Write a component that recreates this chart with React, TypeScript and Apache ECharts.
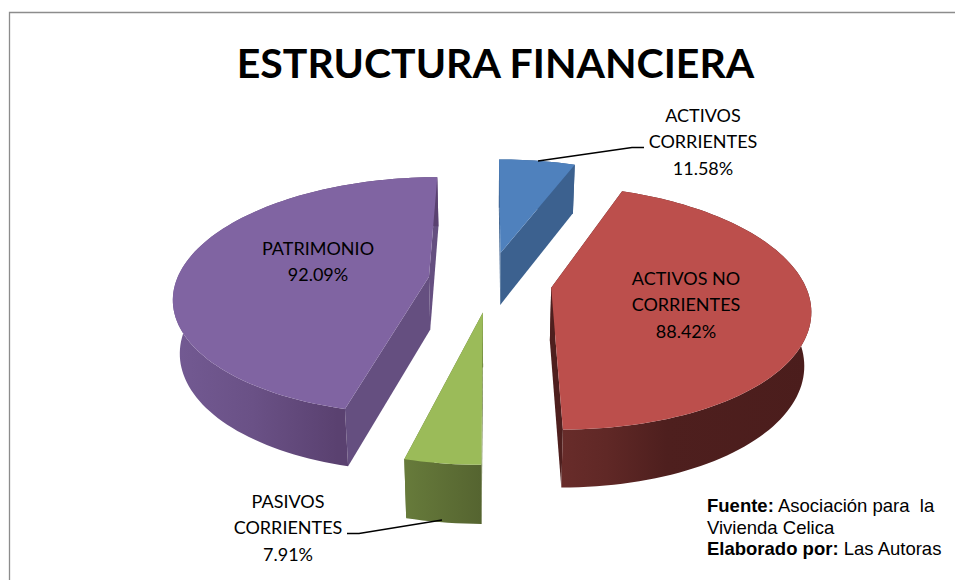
import React, { useEffect, useRef } from "react";
import * as echarts from "echarts";

const TITLE = "ESTRUCTURA FINANCIERA";
const categories = ["ACTIVOS\nCORRIENTES", "ACTIVOS NO\nCORRIENTES", "PASIVOS\nCORRIENTES", "PATRIMONIO"];
const values = [11.58, 88.42, 7.91, 92.09];

const topColors = ["#4F81BD", "#BC4F4C", "#9BBB59", "#8064A2"];
const wallColors = ["#3C618F", "#4E1F1E", "#5D7032", "#654F80"];
const rimStops: [number, string][][] = [
  [[0, "#3C618F"], [1, "#3C618F"]],
  [[0, "#682C2A"], [0.18, "#602826"], [0.42, "#4E1F1E"], [1, "#4B1D1C"]],
  [[0, "#677B3B"], [1, "#556430"]],
  [[0, "#735A93"], [0.3, "#6A5186"], [0.62, "#5A4170"], [1, "#5A4170"]],
];
// explode offset of each slice, in radii of the disc (sideways, towards the viewer)
const explodeU = [0.043, 0.24, -0.027, -0.243];
const explodeV = [-0.283, 0.024, 0.225, -0.07];
// label centres, [x, y] of the block of text
const labelPos = [[703, 141], [686, 304], [288, 527], [318, 261]];
const leaders = [
  [[538, 161], [632, 147.5], [644, 147.5]],
  [[442, 520], [359, 533.5], [347, 533.5]],
];

const CX = 490, CY = 285, A = 254, B = 118, P = 0.16, DEPTH = 53, FLOOR_SCALE = 0.978;
const total = values.reduce((a, b) => a + b, 0);

function proj(u: number, v: number, down: boolean) {
  const s = 1 / (1 - P * v);
  return [CX + A * u * s * (down ? FLOOR_SCALE : 1), CY + B * v * s + (down ? DEPTH * Math.sqrt(s) : 0)];
}

function sliceChildren(i: number, value: number) {
  const before = values.slice(0, i).reduce((a, b) => a + b, 0);
  const a0 = (before / total) * Math.PI * 2;
  const a1 = a0 + (value / total) * Math.PI * 2;
  const eu = explodeU[i], ev = explodeV[i];
  const n = Math.max(6, Math.ceil((a1 - a0) / 0.03));
  const rim: [number, number][] = [];
  for (let k = 0; k <= n; k++) {
    const t = a0 + ((a1 - a0) * k) / n;
    rim.push([eu + Math.sin(t), ev - Math.cos(t)]);
  }
  const first = rim[0], last = rim[n];
  const poly = (pts: number[][], fill: any) => ({ type: "polygon", shape: { points: pts }, style: { fill } });
  const wall = (p: [number, number]) =>
    poly([proj(eu, ev, false), proj(p[0], p[1], false), proj(p[0], p[1], true), proj(eu, ev, true)], wallColors[i]);
  const rimPts = [...rim.map((p) => proj(p[0], p[1], false)), ...rim.slice().reverse().map((p) => proj(p[0], p[1], true))];
  const topPts = [proj(eu, ev, false), ...rim.map((p) => proj(p[0], p[1], false))];
  return [
    wall(first),
    wall(last),
    poly(rimPts, new echarts.graphic.LinearGradient(0, 0, 1, 0, rimStops[i].map(([offset, color]) => ({ offset, color })))),
    poly(topPts, topColors[i]),
  ];
}

export default function App() {
  const ref = useRef<HTMLDivElement>(null);
  useEffect(() => {
    const chart = echarts.init(ref.current!, null, { renderer: "svg" });
    const srcBase = { fontFamily: "Liberation Sans", fontSize: 18.5, fill: "#000000", lineHeight: 21.5 };
    chart.setOption({
      animation: false,
      backgroundColor: "#ffffff",
      title: {
        text: TITLE,
        left: 490.5,
        top: 37,
        textAlign: "center",
        textStyle: { fontFamily: "Lato", fontWeight: "bold", fontSize: 41, color: "#000000" },
      },
      graphic: [
        {
          type: "polyline",
          shape: { points: [[9.5, 580], [9.5, 12.5], [955, 12.5]] },
          style: { stroke: "#8C8C8C", lineWidth: 1.3, fill: "none" },
        },
        ...leaders.map((points) => ({
          type: "polyline",
          z: 10,
          shape: { points },
          style: { stroke: "#000000", lineWidth: 1.4, fill: "none" },
        })),
        {
          type: "text",
          x: 707,
          y: 495,
          z: 10,
          style: {
            ...srcBase,
            text: "{b|Fuente:}{n| Asociación para  la}\n{n|Vivienda Celica}\n{b|Elaborado por:}{n| Las Autoras}",
            rich: {
              b: { ...srcBase, fontWeight: "bold" },
              n: { ...srcBase },
            },
          },
        },
      ],
      series: [
        {
          type: "custom",
          coordinateSystem: "none",
          silent: true,
          data: values,
          renderItem: (params: any, api: any) => {
            const i = params.dataIndex;
            const value = api.value(0);
            return {
              type: "group",
              children: [
                ...sliceChildren(i, value),
                {
                  type: "text",
                  z2: 20,
                  style: {
                    text: `${categories[i]}\n${value.toFixed(2)}%`,
                    x: labelPos[i][0],
                    y: labelPos[i][1],
                    align: "center",
                    verticalAlign: "middle",
                    font: "18px Lato",
                    lineHeight: 26.5,
                    fill: "#000000",
                  },
                },
              ],
            };
          },
        },
      ],
    });
    return () => chart.dispose();
  }, []);
  return <div ref={ref} style={{ position: "absolute", left: 0, top: 0, width: 955, height: 580 }} />;
}
